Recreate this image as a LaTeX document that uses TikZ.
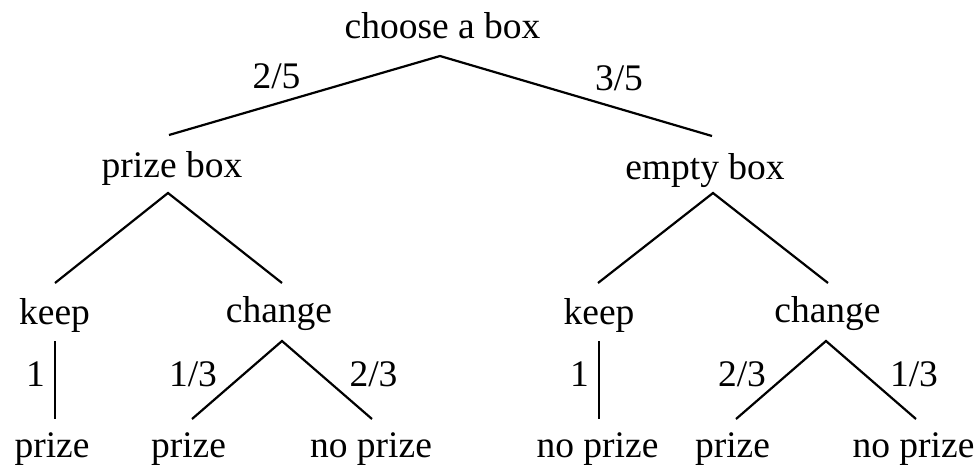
\documentclass[tikz,border=0pt]{standalone}
\usepackage{fontspec}
\setmainfont{Liberation Serif}
\tikzset{
  lbl/.style={anchor=base, inner sep=0pt, font=\fontsize{37.5}{40}\selectfont},
  edge/.style={line width=2.2pt, black}
}
\begin{document}
\begin{tikzpicture}[x=1pt, y=-1pt]
\useasboundingbox (0,0) rectangle (980,467);
% nodes
\node[lbl] (root) at (442.5,38) {choose a box};
\node[lbl] (pb) at (172,177) {prize box};
\node[lbl] (eb) at (705,179) {empty box};
\node[lbl] (lk) at (54.5,324) {keep};
\node[lbl] (lc) at (279,322) {change};
\node[lbl] (rk) at (599,324) {keep};
\node[lbl] (rc) at (827.5,322) {change};
\node[lbl] (p1) at (52,457) {prize};
\node[lbl] (p2) at (188.5,457) {prize};
\node[lbl] (p3) at (371,457) {no prize};
\node[lbl] (p4) at (597.5,457) {no prize};
\node[lbl] (p5) at (732.5,457) {prize};
\node[lbl] (p6) at (913.5,457) {no prize};
% probability labels
\node[lbl] (q25) at (276.5,88) {2/5};
\node[lbl] (q35) at (619,90) {3/5};
\node[lbl] (qlk) at (35.5,386) {1};
\node[lbl] (qlc1) at (193,386) {1/3};
\node[lbl] (qlc2) at (373.5,386) {2/3};
\node[lbl] (qrk) at (579.5,386) {1};
\node[lbl] (qrc1) at (742,386) {2/3};
\node[lbl] (qrc2) at (914,386) {1/3};
% connector end points
\coordinate (root-b) at (440,56);
\coordinate (pb-t) at (169,135);
\coordinate (eb-t) at (712,136);
\coordinate (pb-b) at (168,193);
\coordinate (eb-b) at (713,193);
\coordinate (lk-t) at (55,283);
\coordinate (lc-t) at (282,283);
\coordinate (rk-t) at (598,283);
\coordinate (rc-t) at (828,283);
\coordinate (lk-b) at (55,341);
\coordinate (lc-b) at (282,341);
\coordinate (rk-b) at (599,341);
\coordinate (rc-b) at (826,341);
\coordinate (p1-t) at (55,419);
\coordinate (p2-t) at (192,419);
\coordinate (p3-t) at (372,419);
\coordinate (p4-t) at (599,419);
\coordinate (p5-t) at (736,419);
\coordinate (p6-t) at (916,419);
% connectors
\draw[edge] (pb-t) -- (root-b) -- (eb-t);
\draw[edge] (lk-t) -- (pb-b) -- (lc-t);
\draw[edge] (rk-t) -- (eb-b) -- (rc-t);
\draw[edge] (lk-b) -- (p1-t);
\draw[edge] (p2-t) -- (lc-b) -- (p3-t);
\draw[edge] (rk-b) -- (p4-t);
\draw[edge] (p5-t) -- (rc-b) -- (p6-t);
\end{tikzpicture}
\end{document}
